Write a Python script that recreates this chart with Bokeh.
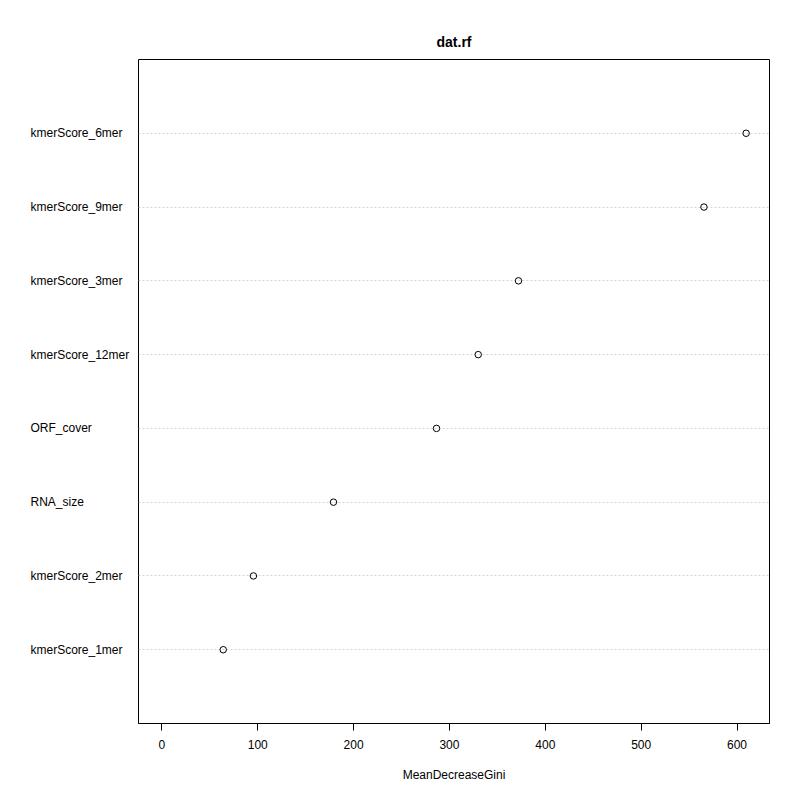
from bokeh.plotting import figure
from bokeh.models import Range1d, FixedTicker, ColumnDataSource
from bokeh.layouts import row
from bokeh.core.properties import value
from bokeh.embed import file_html
from bokeh.resources import INLINE

# Variables, ordered top to bottom as in the chart
variables = ["kmerScore_6mer", "kmerScore_9mer", "kmerScore_3mer", "kmerScore_12mer",
             "ORF_cover", "RNA_size", "kmerScore_2mer", "kmerScore_1mer"]
gini = [609.5, 565.5, 372.0, 330.0, 286.5, 179.0, 95.5, 64.0]
x_ticks = [0, 100, 200, 300, 400, 500, 600]

n = len(variables)
ypos = [n - i for i in range(n)]

lo, hi = 0.0, max(gini)
pad = 0.04 * (hi - lo)

FONT = "Liberation Sans"
H = 784
TOP, BOTTOM = 59, 56
LEFT_W = 138

src = ColumnDataSource(dict(x=gini, y=ypos, name=variables))
yr = Range1d(0, n + 1)

# Left panel that holds the left-aligned variable names
lab = figure(width=LEFT_W, height=H, output_backend="svg", toolbar_location=None,
             x_range=Range1d(0, LEFT_W), y_range=yr,
             min_border_left=0, min_border_right=0, min_border_top=TOP, min_border_bottom=BOTTOM)
lab.axis.visible = False
lab.grid.visible = False
lab.outline_line_color = None
lab.text(x=30, y="y", text="name", source=src, text_align="left", text_baseline="middle",
         text_font=value(FONT), text_font_size="12px", text_color="black")

# Main dot chart
p = figure(width=784 - LEFT_W, height=H, output_backend="svg", toolbar_location=None,
           x_range=Range1d(lo - pad, hi + pad), y_range=yr,
           min_border_left=0, min_border_right=15, min_border_top=TOP, min_border_bottom=BOTTOM,
           title="dat.rf")

p.title.align = "center"
p.title.text_font = FONT
p.title.text_font_size = "14px"
p.title.text_font_style = "bold"
p.title.text_color = "black"
p.title.standoff = 19

p.outline_line_color = "black"
p.outline_line_width = 1
p.outline_line_alpha = 1.0

p.xgrid.visible = False
p.ygrid.ticker = FixedTicker(ticks=ypos)
p.ygrid.grid_line_color = "#D3D3D3"
p.ygrid.grid_line_dash = "2 2"
p.ygrid.grid_line_width = 1

p.yaxis.visible = False

xa = p.xaxis[0]
xa.ticker = FixedTicker(ticks=x_ticks)
xa.axis_line_color = "black"
xa.major_tick_line_color = "black"
xa.major_tick_out = 7
xa.major_tick_in = 0
xa.minor_tick_line_color = None
xa.major_label_standoff = 9
xa.major_label_text_font = FONT
xa.major_label_text_font_size = "12px"
xa.major_label_text_color = "black"
xa.axis_label = "MeanDecreaseGini"
xa.axis_label_text_font = FONT
xa.axis_label_text_font_size = "12px"
xa.axis_label_text_font_style = "normal"
xa.axis_label_text_color = "black"
xa.axis_label_standoff = 16

p.scatter("x", "y", source=src, marker="circle", size=6.5, fill_color=None,
          line_color="black", line_width=1)

layout = row(lab, p, spacing=0)
open("out.html", "w").write(file_html(layout, INLINE))
